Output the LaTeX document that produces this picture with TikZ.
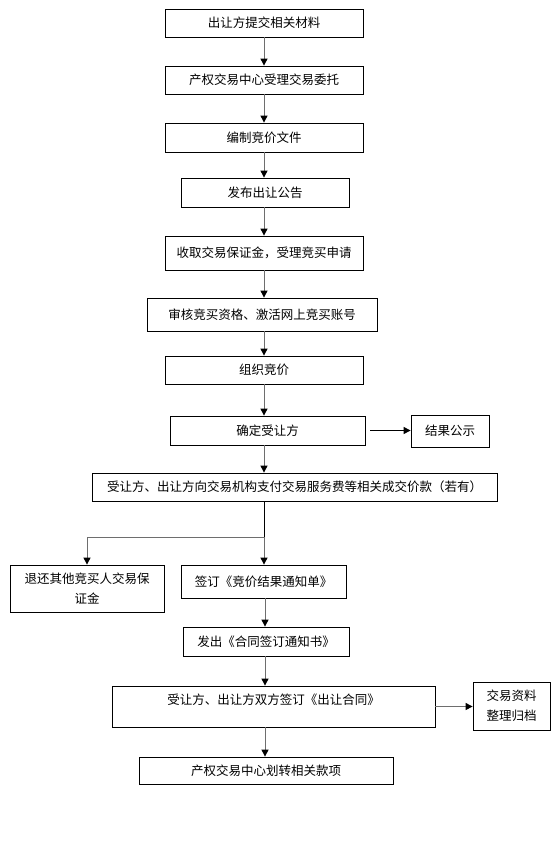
\documentclass[tikz,border=0pt]{standalone}
\usepackage{fontspec}
\setmainfont{Noto Sans CJK SC}
\usetikzlibrary{arrows.meta}
\definecolor{flowgray}{HTML}{6E6E6E}

\begin{document}
\begin{tikzpicture}[x=1pt, y=-1pt, line width=0.8pt,
    procbox/.style={draw=black, inner sep=0pt, font=\fontsize{12.5}{20}\selectfont, align=center},
    flow/.style={draw=flowgray, line width=1pt, -{Triangle[color=black, fill=black, length=7pt, width=7pt]}},
    link/.style={draw=black, line width=0.8pt}]
  \fill[white] (0,0) rectangle (551,848);
  \node[procbox, minimum width=198pt, minimum height=28pt] (tijiao) at (264,23) {出让方提交相关材料};
  \node[procbox, minimum width=198pt, minimum height=28pt] (shouli) at (264,80) {产权交易中心受理交易委托};
  \node[procbox, minimum width=198pt, minimum height=29pt] (bianzhi) at (264,137.5) {编制竞价文件};
  \node[procbox, minimum width=168pt, minimum height=29pt] (gonggao) at (265,192.5) {发布出让公告};
  \node[procbox, minimum width=198pt, minimum height=34pt] (baozheng) at (264,253) {收取交易保证金，受理竞买申请};
  \node[procbox, minimum width=230pt, minimum height=33pt] (shenhe) at (262,314.5) {审核竞买资格、激活网上竞买账号};
  \node[procbox, minimum width=198pt, minimum height=28pt] (jingjia) at (264,370) {组织竞价};
  \node[procbox, minimum width=195pt, minimum height=29pt] (queding) at (267.5,430.5) {确定受让方};
  \node[procbox, minimum width=78pt, minimum height=32pt] (gongshi) at (450,431) {结果公示};
  \node[procbox, minimum width=405pt, minimum height=28pt] (zhifu) at (294.5,487) {受让方、出让方向交易机构支付交易服务费等相关成交价款（若有）};
  \node[procbox, minimum width=154pt, minimum height=47pt] (tuihuan) at (87,588.5) {退还其他竞买人交易保\\证金};
  \node[procbox, minimum width=165pt, minimum height=33pt] (tongzhidan) at (263.5,581.5) {签订《竞价结果通知单》};
  \node[procbox, minimum width=166pt, minimum height=29pt] (tongzhishu) at (266,641.5) {发出《合同签订通知书》};
  \node[procbox, minimum width=323pt, minimum height=41pt, text height=10pt, text depth=14pt] (hetong) at (273.5,706.5) {受让方、出让方双方签订《出让合同》};
  \node[procbox, minimum width=77pt, minimum height=48pt] (guidang) at (511.5,706) {交易资料\\整理归档};
  \node[procbox, minimum width=254pt, minimum height=27pt] (huazhuan) at (266,770.5) {产权交易中心划转相关款项};
  \coordinate (split) at (264,537);
  \coordinate (lane) at (265,0);

  \draw[flow] (tijiao.south) -- (tijiao.south |- shouli.north);
  \draw[flow] (shouli.south) -- (shouli.south |- bianzhi.north);
  \draw[flow] (bianzhi.south) -- (bianzhi.south |- gonggao.north);
  \draw[flow] (bianzhi.south |- gonggao.south) -- (bianzhi.south |- baozheng.north);
  \draw[flow] (baozheng.south) -- (baozheng.south |- shenhe.north);
  \draw[flow] (baozheng.south |- shenhe.south) -- (baozheng.south |- jingjia.north);
  \draw[flow] (jingjia.south) -- (jingjia.south |- queding.north);
  \draw[flow] (jingjia.south |- queding.south) -- (jingjia.south |- zhifu.north);
  \draw[flow, draw=black, shorten <=5pt] (queding.east) -- (queding.east -| gongshi.west);
  \draw[link] (split |- zhifu.south) -- (split);
  \draw[flow] (split) -| (tuihuan.north);
  \draw[flow] (split) -- (split |- tongzhidan.north);
  \draw[flow] (lane |- tongzhidan.south) -- (lane |- tongzhishu.north);
  \draw[flow] (lane |- tongzhishu.south) -- (lane |- hetong.north);
  \draw[flow] (hetong.east) -- (hetong.east -| guidang.west);
  \draw[flow] (lane |- hetong.south) -- (lane |- huazhuan.north);
\end{tikzpicture}
\end{document}
